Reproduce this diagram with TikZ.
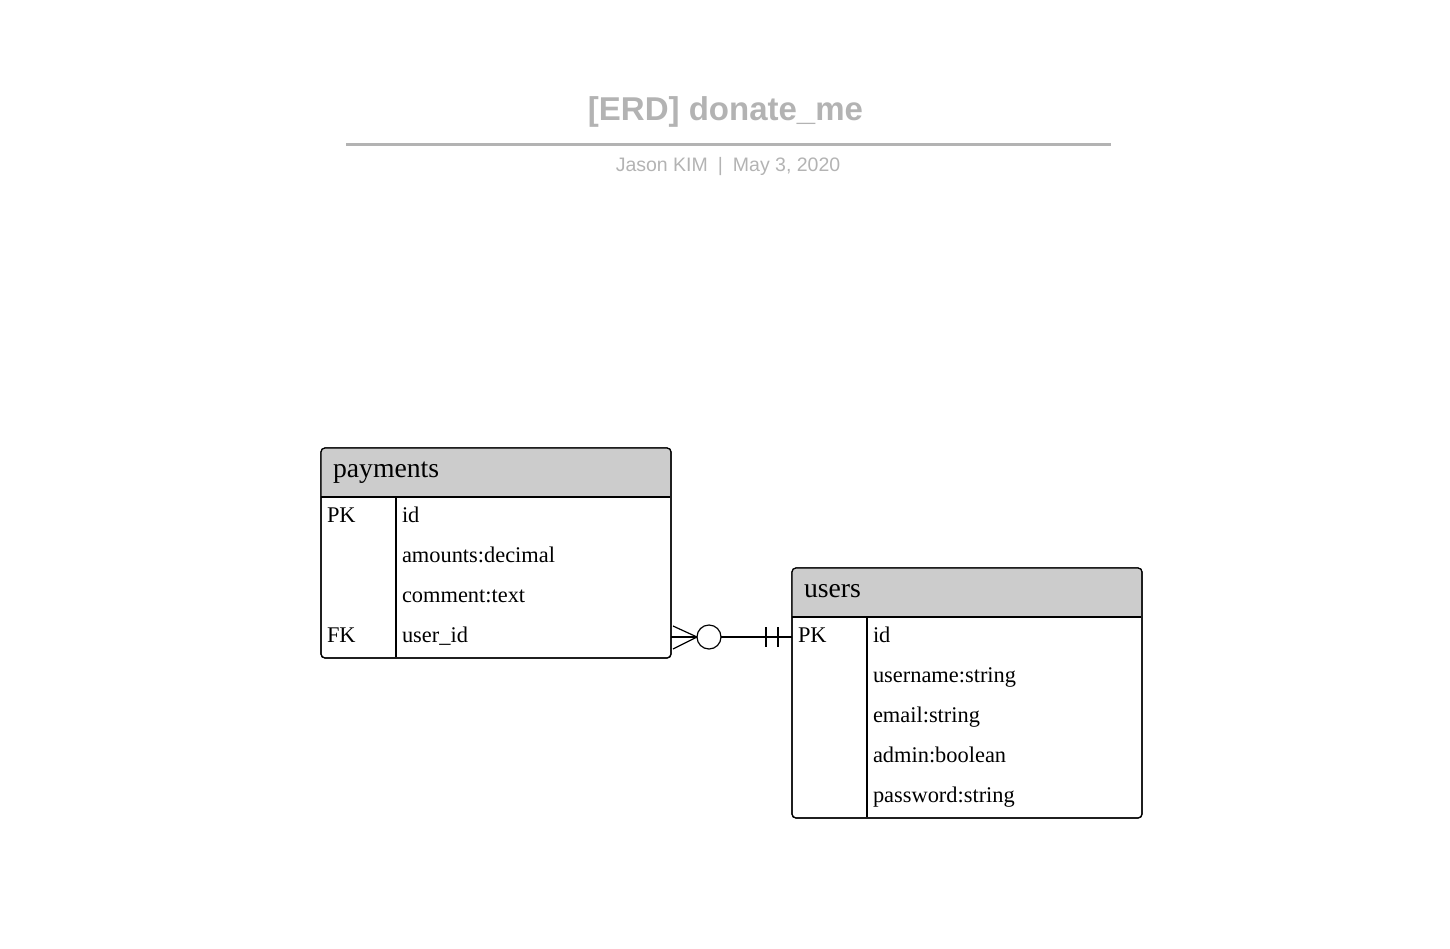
\documentclass[tikz,border=0pt]{standalone}
\usepackage{fontspec}
\setmainfont{Liberation Serif}
\newfontfamily\titlefont{Liberation Sans}
\usepackage{tikz}
\usetikzlibrary{calc}

\definecolor{titlegray}{HTML}{B3B3B3}
\definecolor{hdrfill}{HTML}{CCCCCC}

\begin{document}
\begin{tikzpicture}[
		x=1pt, y=-1pt,
		every node/.style={inner sep=0pt, outer sep=0pt},
		tbl/.style={draw, rounded corners=4pt, line width=1.2pt, anchor=north west, minimum width=350pt},
		hdr/.style={anchor=base west, font=\fontsize{27.7}{30}\selectfont},
		fld/.style={anchor=base west, font=\fontsize{22.4}{26}\selectfont},
		rel/.style={line width=1.2pt}
	]
  \useasboundingbox (0,0) rectangle (1450,948);

  % title block
  \node (title) [font=\titlefont\bfseries\fontsize{33}{36}\selectfont, text=titlegray] at (725.5,112) {[ERD] donate\_me};
  \draw [titlegray, line width=3pt] (346,144) -- (1111,144);
  \node (sub) [font=\titlefont\fontsize{19.5}{22}\selectfont, text=titlegray] at (728,166) {Jason KIM\hspace{10pt}|\hspace{10pt}May 3, 2020};

  % payments
  \node (payments) [tbl, minimum height=210pt] at (321,448) {};
  \begin{scope}
    \clip [rounded corners=4pt] (payments.north west) rectangle (payments.south east);
    \fill [hdrfill] (payments.north west) rectangle (670,497);
  \end{scope}
  \draw [rel] (321,497) -- (670,497);
  \draw [rel] (396,497) -- (396,657);
  \node (payments) [tbl, minimum height=210pt] at (321,448) {};
  \node (p-name) [hdr] at (333,477) {payments};
  \node (p-pk) [fld] at (327,522) {PK};
  \node (p-id) [fld] at (402,522) {id};
  \node (p-amt) [fld] at (402,562) {amounts:decimal};
  \node (p-cmt) [fld] at (402,602) {comment:text};
  \node (p-fk) [fld] at (327,642) {FK};
  \node (p-uid) [fld] at (402,642) {user\_id};

  % users
  \node (users) [tbl, minimum height=250pt] at (792,568) {};
  \begin{scope}
    \clip [rounded corners=4pt] (users.north west) rectangle (users.south east);
    \fill [hdrfill] (users.north west) rectangle (1141,617);
  \end{scope}
  \draw [rel] (792,617) -- (1141,617);
  \draw [rel] (867,617) -- (867,817);
  \node (users) [tbl, minimum height=250pt] at (792,568) {};
  \node (u-name) [hdr] at (804,597) {users};
  \node (u-pk) [fld] at (798,642) {PK};
  \node (u-id) [fld] at (873,642) {id};
  \node (u-uname) [fld] at (873,682) {username:string};
  \node (u-mail) [fld] at (873,722) {email:string};
  \node (u-adm) [fld] at (873,762) {admin:boolean};
  \node (u-pw) [fld] at (873,802) {password:string};

  % relation: zero-or-many to exactly one
  \coordinate (p-end) at (payments.east |- 0,637);
  \coordinate (u-end) at (users.west |- 0,637);
  \node (opt) [circle, draw, line width=1.2pt, minimum size=24pt] at (709,637) {};
  \draw [rel] ($(p-end)+(2,-11)$) -- (opt.west);
  \draw [rel] (p-end) -- (opt.west);
  \draw [rel] ($(p-end)+(2,12)$) -- (opt.west);
  \draw [rel] (opt.east) -- (u-end);
  \draw [rel] ($(u-end)+(-26,-10)$) -- ($(u-end)+(-26,10)$);
  \draw [rel] ($(u-end)+(-14,-10)$) -- ($(u-end)+(-14,10)$);
\end{tikzpicture}
\end{document}
